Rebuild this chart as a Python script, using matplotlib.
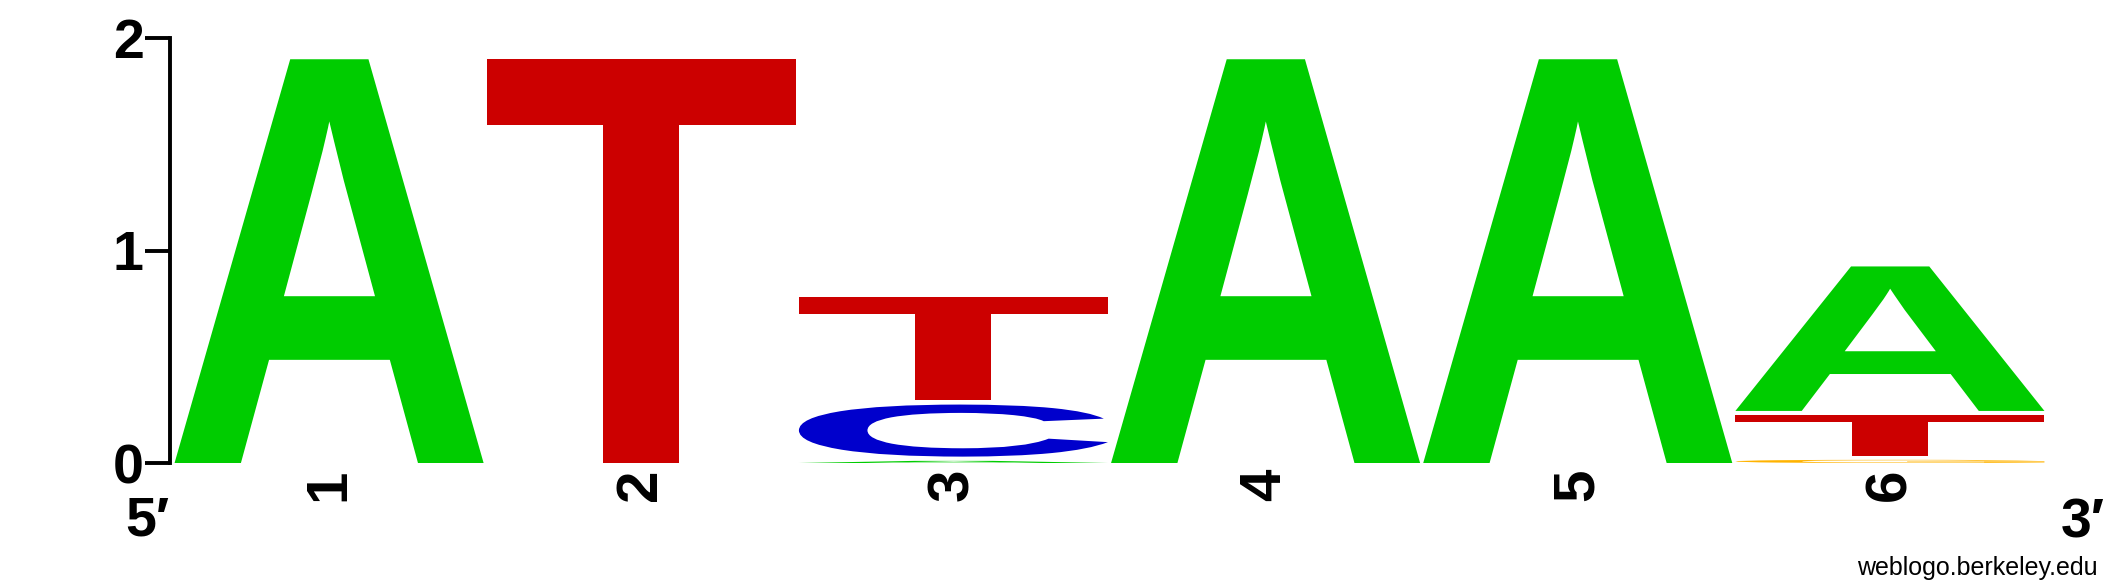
import matplotlib
matplotlib.use('Agg')
import matplotlib.pyplot as plt
from matplotlib.textpath import TextPath
from matplotlib.patches import PathPatch
from matplotlib.font_manager import FontProperties
from matplotlib.transforms import Affine2D

# sequence logo data, letters listed bottom to top in each column (bits)
positions = [1, 2, 3, 4, 5, 6]
letters = [['A'], ['T'], ['A', 'C', 'T'], ['A'], ['A'], ['G', 'T', 'A']]
heights = [[1.9], [1.9], [0.01, 0.245, 0.485], [1.9], [1.9], [0.015, 0.19, 0.68]]
colors = {'A': '#00CC00', 'C': '#0000CC', 'G': '#FFB300', 'T': '#CC0000'}
yticks = [0, 1, 2]

gap = 0.02
letter_width = 0.99

fig = plt.figure(figsize=(21.25, 5.88), dpi=100)
ax = fig.add_axes([173 / 2125, 125 / 588, 1873 / 2125, 425 / 588])

glyph_font = FontProperties(family='Liberation Sans', weight='bold')


def draw_letter(ax, ch, x0, y0, w, h, color):
    tp = TextPath((0, 0), ch, size=1, prop=glyph_font)
    bb = tp.get_extents()
    tr = (Affine2D().translate(-bb.x0, -bb.y0)
          .scale(w / bb.width, h / bb.height)
          .translate(x0, y0))
    patch = PathPatch(tr.transform_path(tp), facecolor=color,
                      edgecolor='none', clip_on=False)
    ax.add_patch(patch)


for pos, col_letters, col_heights in zip(positions, letters, heights):
    y = 0.0
    for ch, h in zip(col_letters, col_heights):
        draw_letter(ax, ch, pos - letter_width / 2, y, letter_width, h, colors[ch])
        y += h + gap

ax.set_xlim(0.5, 6.5)
ax.set_ylim(0, 2)

for s in ['top', 'right', 'bottom']:
    ax.spines[s].set_visible(False)
ax.spines['left'].set_position(('outward', 2))
ax.spines['left'].set_bounds(0, 2)
ax.spines['left'].set_linewidth(2.8)

ax.set_yticks(yticks)
ax.set_yticklabels([str(t) for t in yticks], fontsize=40, fontweight='bold',
                   family='Liberation Sans')
ax.tick_params(axis='y', length=18, width=2.8, pad=1)

ax.set_xticks(positions)
ax.set_xticklabels([str(p) for p in positions], rotation=90, fontsize=42,
                   fontweight='bold', family='Liberation Sans')
ax.tick_params(axis='x', length=0, pad=4)

fig.text(147 / 2125, 53 / 588, '5\u2032', ha='center', va='baseline',
         fontsize=40, fontweight='bold', family=['Liberation Sans', 'DejaVu Sans'])
fig.text(2083 / 2125, 50 / 588, '3\u2032', ha='center', va='baseline',
         fontsize=40, fontweight='bold', family=['Liberation Sans', 'DejaVu Sans'])
fig.text(2098 / 2125, 13 / 588, 'weblogo.berkeley.edu', ha='right', va='baseline',
         fontsize=18, family='Liberation Sans')

fig.savefig('out.png', dpi=100, facecolor='white')
